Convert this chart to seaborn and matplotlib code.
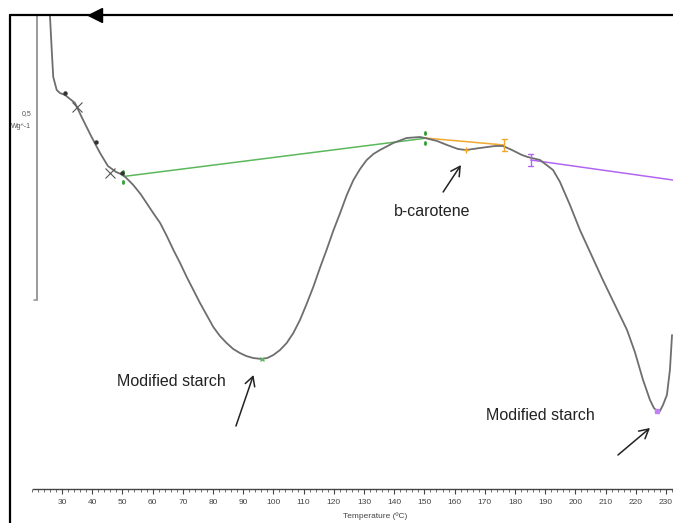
import matplotlib
matplotlib.use("Agg")
import matplotlib.pyplot as plt
import seaborn as sns
import pandas as pd

# DSC heat-flow trace (temperature in degC, heat flow in arbitrary W/g units)
temperature = [26.0, 26.6, 27.1, 28.25, 29.3, 31.0, 34.3, 36.5, 39.8, 42.6, 45.2,
               47.9, 50.3, 53.6, 56.0, 58.0, 60.2, 62.5, 64.7, 66.9, 69.1, 71.3,
               73.5, 75.7, 77.9, 80.1, 82.3, 84.5, 86.7, 88.9, 91.0, 93.3, 96.1,
               98.0, 100.0, 102.2, 104.4, 106.6, 108.8, 111.0, 113.2, 115.4,
               117.6, 119.8, 122.1, 124.3, 126.5, 128.7, 130.9, 133.1, 135.3,
               139.7, 144.1, 148.5, 150.2, 154.2, 157.5, 161.1, 163.8,
               168.4, 173.4, 176.0, 179.0, 182.3, 184.2, 188.3, 192.6, 194.9,
               198.2, 201.5, 205.3, 209.1, 213.1, 217.1, 219.7, 222.4, 224.7,
               226.0, 227.0, 228.0, 229.0, 230.3, 231.3, 232.0]
heat_flow = [5.08, 4.73, 4.46, 4.33, 4.30, 4.28, 4.20, 4.06, 3.86, 3.70, 3.57,
             3.51, 3.48, 3.38, 3.29, 3.20, 3.10, 3.00, 2.87, 2.73, 2.60, 2.46,
             2.33, 2.20, 2.08, 1.96, 1.87, 1.80, 1.74, 1.70, 1.67, 1.65, 1.64,
             1.65, 1.68, 1.73, 1.80, 1.90, 2.03, 2.19, 2.36, 2.55,
             2.73, 2.92, 3.10, 3.28, 3.43, 3.54, 3.63, 3.69, 3.73,
             3.80, 3.85, 3.86, 3.85, 3.82, 3.78, 3.74, 3.73,
             3.75, 3.77, 3.77, 3.73, 3.68, 3.66, 3.63, 3.53, 3.41,
             3.18, 2.93, 2.68, 2.43, 2.18, 1.93, 1.71, 1.43, 1.23,
             1.15, 1.12, 1.12, 1.18, 1.28, 1.53, 1.88]

# integration baselines: (start T, end T), (start value, end value)
green_T, green_v = [50.3, 150.2], [3.465, 3.847]
orange_T, orange_v = [150.2, 176.4], [3.85, 3.78]
purple_T, purple_v = [185.2, 232.3], [3.63, 3.43]

# evaluation marks on the curve
peak1_T, peak1_v = 96.1, 1.64
peak2_T, peak2_v = 227.0, 1.12
mid_T, mid_v = 163.8, 3.73
eval_dot_T, eval_dot_v = [31.0, 41.1, 50.0], [4.30, 3.81, 3.50]
eval_x_T, eval_x_v = [34.9, 46.0], [4.16, 3.505]

# annotations: label, text position, arrow tail, arrow head
labels = ["Modified starch", "b-carotene", "Modified starch"]
label_T = [66.1, 152.5, 188.3]
label_v = [1.41, 3.11, 1.07]
arrow_tail_T = [87.6, 156.2, 214.1]
arrow_tail_v = [0.97, 3.31, 0.68]
arrow_head_T = [93.4, 162.1, 224.7]
arrow_head_v = [1.48, 3.58, 0.95]

major_ticks = list(range(30, 240, 10))
minor_ticks = list(range(20, 234, 2))

sns.set_theme(style="white")
plt.rcParams["font.family"] = ["Liberation Sans", "DejaVu Sans"]

fig = plt.figure(figsize=(6.73, 5.23), dpi=100)
ax = fig.add_axes([0, 0, 1, 1])
ax.set_xlim(9.47, 232.32)
ax.set_ylim(0, 5.23)
ax.set_facecolor("white")

df = pd.DataFrame({"Temperature": temperature, "Heat flow": heat_flow})
sns.lineplot(data=df, x="Temperature", y="Heat flow", sort=False, estimator=None,
             color="#6e6e6e", lw=1.3, ax=ax, zorder=4)

# baselines
ax.plot(green_T, green_v, color="#5cb85c", lw=1.1, zorder=3)
ax.plot(orange_T, orange_v, color="#f0a830", lw=1.1, zorder=3)
ax.plot(purple_T, purple_v, color="#b266f0", lw=1.1, zorder=3)

# baseline limit markers
for t, v, c in [(green_T[0], green_v[0], "#2e9e2e"), (green_T[1], green_v[1], "#2e9e2e")]:
    ax.plot([t, t], [v + 0.04, v + 0.06], color=c, lw=2, zorder=5)
    ax.plot([t, t], [v - 0.06, v - 0.04], color=c, lw=2, zorder=5)
for t, v, c in [(orange_T[1], orange_v[1], "#f0a830"), (purple_T[0], purple_v[0], "#b266f0")]:
    ax.plot([t, t], [v - 0.06, v + 0.06], color=c, lw=1.0, zorder=5)
    ax.plot([t - 0.8, t + 0.8], [v + 0.06, v + 0.06], color=c, lw=1.0, zorder=5)
    ax.plot([t - 0.8, t + 0.8], [v - 0.06, v - 0.06], color=c, lw=1.0, zorder=5)
ax.plot([peak1_T], [peak1_v], marker="x", ms=3, color="#5cb85c", mew=1, zorder=5)
ax.plot([peak2_T], [peak2_v], marker="s", ms=2.5, color="#c080f8", zorder=5)
ax.plot([mid_T], [mid_v], marker="+", ms=4, color="#f0a830", mew=1, zorder=5)
ax.plot(eval_dot_T, eval_dot_v, ls="none", marker="o", ms=2.2, color="#333333", zorder=5)
ax.plot(eval_x_T, eval_x_v, ls="none", marker="x", ms=7, mew=0.8, color="#555555", zorder=5)

# annotations
for lab, tx, ty, t0, v0, t1, v1 in zip(labels, label_T, label_v, arrow_tail_T,
                                        arrow_tail_v, arrow_head_T, arrow_head_v):
    ax.text(tx, ty, lab, ha="center", va="center", fontsize=11.5, color="#222222")
    ax.annotate("", xy=(t1, v1), xytext=(t0, v0),
                arrowprops=dict(arrowstyle="->,head_length=0.55,head_width=0.3",
                                color="#222222", lw=1.1, shrinkA=0, shrinkB=0))

# temperature axis
for s in ["left", "right", "top"]:
    ax.spines[s].set_visible(False)
ax.spines["bottom"].set_position(("data", 0.34))
ax.spines["bottom"].set_bounds(20.4, 233)
ax.spines["bottom"].set_color("#444444")
ax.spines["bottom"].set_linewidth(1.0)
ax.set_xticks(major_ticks)
ax.set_xticks(minor_ticks, minor=True)
ax.set_xticklabels([str(t) for t in major_ticks])
ax.tick_params(axis="x", which="major", direction="out", length=3.6, width=0.8,
               color="#444444", labelsize=6, labelcolor="#444444", pad=3.5, bottom=True)
ax.tick_params(axis="x", which="minor", direction="out", length=2.0, width=0.6,
               color="#555555", bottom=True)
ax.set_yticks([])
ax.set_xlabel("")
ax.set_ylabel("")
ax.text(133.6, 0.065, "Temperature (ºC)", ha="center", va="center", fontsize=6,
        color="#444444")

# heat-flow scale bar
ax.plot([21.72, 21.72], [2.23, 5.08], color="#9a9a9a", lw=1.4, zorder=2)
ax.plot([20.6, 21.72], [2.23, 2.23], color="#9a9a9a", lw=1.2, zorder=2)
ax.text(19.8, 4.09, "0,5", ha="right", va="center", fontsize=5, color="#555555")
ax.text(19.8, 3.96, "Wg^-1", ha="right", va="center", fontsize=5, color="#555555")

# frame with direction arrow
ax.plot([12.8, 12.8], [0, 5.08], color="black", lw=1.6, zorder=6, clip_on=False)
ax.plot([12.8, 233], [5.08, 5.08], color="black", lw=1.6, zorder=6)
ax.plot([41.0], [5.08], marker="<", ms=10, color="black", zorder=7)

fig.savefig("out.png", dpi=100)
